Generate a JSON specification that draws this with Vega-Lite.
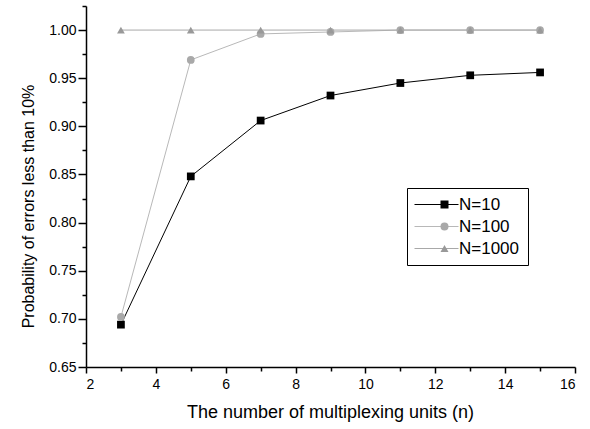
{
  "$schema": "https://vega.github.io/schema/vega-lite/v6.json",
  "width": 489,
  "height": 361,
  "autosize": {"type": "none"},
  "padding": {"left": 86, "top": 6, "right": 15, "bottom": 62},
  "background": "white",
  "config": {
    "font": "Liberation Sans",
    "view": {"stroke": null},
    "axis": {"grid": false, "domainColor": "black", "tickColor": "black", "labelColor": "black", "titleColor": "black", "labelFont": "Liberation Sans", "titleFont": "Liberation Sans", "titleFontWeight": "normal", "domainWidth": 1.5, "tickWidth": 1.5}
  },
  "data": {
    "values": [
      {"n": 3, "p": 0.694, "series": "N=10"},
      {"n": 5, "p": 0.848, "series": "N=10"},
      {"n": 7, "p": 0.906, "series": "N=10"},
      {"n": 9, "p": 0.932, "series": "N=10"},
      {"n": 11, "p": 0.945, "series": "N=10"},
      {"n": 13, "p": 0.953, "series": "N=10"},
      {"n": 15, "p": 0.956, "series": "N=10"},
      {"n": 3, "p": 0.702, "series": "N=100"},
      {"n": 5, "p": 0.969, "series": "N=100"},
      {"n": 7, "p": 0.996, "series": "N=100"},
      {"n": 9, "p": 0.998, "series": "N=100"},
      {"n": 11, "p": 1.0, "series": "N=100"},
      {"n": 13, "p": 1.0, "series": "N=100"},
      {"n": 15, "p": 1.0, "series": "N=100"},
      {"n": 3, "p": 1.0, "series": "N=1000"},
      {"n": 5, "p": 1.0, "series": "N=1000"},
      {"n": 7, "p": 1.0, "series": "N=1000"},
      {"n": 9, "p": 1.0, "series": "N=1000"},
      {"n": 11, "p": 1.0, "series": "N=1000"},
      {"n": 13, "p": 1.0, "series": "N=1000"},
      {"n": 15, "p": 1.0, "series": "N=1000"}
    ]
  },
  "resolve": {"axis": {"x": "independent", "y": "independent"}},
  "layer": [
    {
      "mark": {"type": "line", "strokeWidth": 1},
      "encoding": {
        "x": {"field": "n", "type": "quantitative", "scale": {"domain": [2, 16], "nice": false},
          "axis": {"orient": "bottom", "values": [2, 4, 6, 8, 10, 12, 14, 16], "tickSize": 6, "labelFontSize": 14, "labelPadding": 4,
            "title": "The number of multiplexing units (n)", "titleFontSize": 18, "titleX": 244, "titleY": 45, "titleAlign": "center", "titleBaseline": "middle"}},
        "y": {"field": "p", "type": "quantitative", "scale": {"domain": [0.65, 1.025], "nice": false, "zero": false},
          "axis": {"orient": "left", "values": [0.65, 0.7, 0.75, 0.8, 0.85, 0.9, 0.95, 1.0], "format": ".2f", "tickSize": 8, "labelFontSize": 14, "labelPadding": 2,
            "title": "Probability of errors less than 10%", "titleFontSize": 16, "titleX": -58, "titleY": 200, "titleAngle": -90, "titleAlign": "center", "titleBaseline": "middle"}},
        "stroke": {"field": "series", "type": "nominal", "scale": {"domain": ["N=10", "N=100", "N=1000"], "range": ["#000000", "#b8b8b8", "#a8a8a8"]},
          "legend": {"orient": "none", "legendX": 321, "legendY": 182, "title": null, "padding": 8, "labelFontSize": 17, "labelOpacity": 0, "symbolType": "M -7.5 0 L 3.5 0", "symbolSize": 64, "symbolStrokeWidth": 1, "rowPadding": 4, "symbolOffset": 21, "labelOffset": 6}},
        "detail": {"field": "series"}
      }
    },
    {
      "mark": {"type": "point", "filled": true, "opacity": 1, "size": 60},
      "encoding": {
        "x": {"field": "n", "type": "quantitative", "axis": {"orient": "bottom", "values": [3, 5, 7, 9, 11, 13, 15], "labels": false, "domain": false, "tickSize": 4, "title": null}},
        "y": {"field": "p", "type": "quantitative", "axis": {"orient": "left", "values": [0.675, 0.725, 0.775, 0.825, 0.875, 0.925, 0.975, 1.025], "labels": false, "domain": false, "tickSize": 4, "title": null}},
        "color": {"field": "series", "type": "nominal", "scale": {"range": ["#000000", "#a9a9a9", "#999999"]},
          "legend": {"orient": "none", "legendX": 321, "legendY": 182, "title": null, "strokeColor": "black", "padding": 8, "labelFontSize": 17, "labelFont": "Liberation Sans", "labelColor": "black", "symbolSize": 64, "rowPadding": 4, "symbolOffset": 21, "labelOffset": 6}},
        "shape": {"field": "series", "type": "nominal", "scale": {"range": ["square", "circle", "triangle-up"]},
          "legend": {"orient": "none", "legendX": 321, "legendY": 182, "title": null, "strokeColor": "black", "padding": 8, "labelFontSize": 17, "labelColor": "black", "symbolSize": 64, "rowPadding": 4, "symbolOffset": 21, "labelOffset": 6}}
      }
    }
  ]
}
